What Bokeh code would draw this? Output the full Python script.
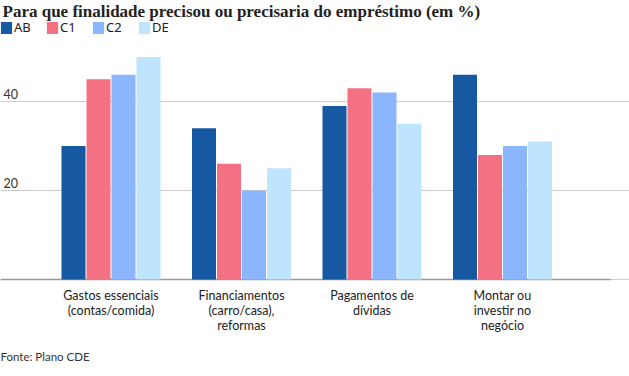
import numpy as np
from bokeh.plotting import figure
from bokeh.models import Range1d, Legend, LegendItem, FixedTicker, ColumnDataSource
from bokeh.core.properties import value
from bokeh.embed import file_html
from bokeh.resources import INLINE

# ---- data ----
categories = ["Gastos essenciais\n(contas/comida)",
              "Financiamentos\n(carro/casa),\nreformas",
              "Pagamentos de\ndívidas",
              "Montar ou\ninvestir no\nnegócio"]
series = ["AB", "C1", "C2", "DE"]
ab = [30, 34, 39, 46]
c1 = [45, 26, 43, 28]
c2 = [46, 20, 42, 30]
de = [50, 25, 35, 31]
y_ticks = [20, 40]
colors = ["#1659a2", "#f47184", "#8bb5fd", "#bee4fe"]

title_text = "Para que finalidade precisou ou precisaria do empréstimo (em %)"
source_text = "Fonte: Plano CDE"

# ---- geometry (pixels -> data) ----
W, H = 629, 376
GROUP_PX = 130.5          # px per category unit
FIRST_CENTER_PX = 110.5
BASE_PX = 279.0           # y pixel of zero line
UNIT_PX = 4.45            # px per percentage point
SANS = "Lato"

def px_x(px):
    return (px - FIRST_CENTER_PX) / GROUP_PX

def px_y(py):
    return (BASE_PX - py) / UNIT_PX

p = figure(width=W, height=H, output_backend="svg", toolbar_location=None,
           x_range=Range1d(px_x(0), px_x(W)), y_range=Range1d(px_y(H), px_y(0)),
           min_border=0, min_border_left=0, min_border_right=0,
           min_border_top=0, min_border_bottom=0,
           outline_line_color=None, background_fill_color="white",
           border_fill_color="white")
p.xaxis.visible = False
p.yaxis.visible = False
p.xgrid.visible = False
p.ygrid.ticker = FixedTicker(ticks=[0] + y_ticks)
p.ygrid.grid_line_color = "#cccccc"
p.ygrid.grid_line_width = 1

# baseline (darker) from left edge to ~610px
p.segment(x0=[px_x(0)], y0=[0], x1=[px_x(610)], y1=[0],
          line_color="#999999", line_width=1.5)

# bars
x = np.arange(len(categories))
step = 25 / GROUP_PX
bw = 24 / GROUP_PX
vals = [ab, c1, c2, de]
renderers = []
for i, (name, v, col) in enumerate(zip(series, vals, colors)):
    src = ColumnDataSource(dict(x=x + (i - 1.5) * step, top=v))
    r = p.vbar(x="x", top="top", bottom=0, width=bw, source=src,
               fill_color=col, line_color=None)
    renderers.append(r)

# y tick labels
p.text(x=[px_x(3)] * len(y_ticks), y=y_ticks, text=[str(t) for t in y_ticks],
       text_font=value(SANS), text_font_size="12.5px", text_color="#333333",
       text_baseline="bottom", text_align="left", y_offset=-3)

# category labels
p.text(x=x, y=[px_y(287)] * len(categories), text=categories,
       text_font=value(SANS), text_font_size="12.5px", text_color="#222222",
       text_baseline="top", text_align="center", text_line_height=1.0)

# title
p.text(x=[px_x(2)], y=[px_y(1)], text=[title_text],
       text_font=value("Liberation Serif"), text_font_style="bold",
       text_font_size="17px", text_color="#222222",
       text_baseline="top", text_align="left")

# source
p.text(x=[px_x(0)], y=[px_y(349)], text=[source_text],
       text_font=value(SANS), text_font_size="11.5px", text_color="#333333",
       text_baseline="top", text_align="left")

legend = Legend(items=[LegendItem(label=s, renderers=[r]) for s, r in zip(series, renderers)],
                orientation="horizontal", location=(-1, H - 36),
                glyph_width=14, glyph_height=15, label_standoff=1, spacing=11,
                padding=0, margin=0, border_line_color=None,
                background_fill_alpha=0,
                label_text_font="Noto Sans", label_text_font_size="13px",
                label_text_color="#222222", label_height=15)
p.add_layout(legend)

open("out.html", "w").write(file_html(p, INLINE))
